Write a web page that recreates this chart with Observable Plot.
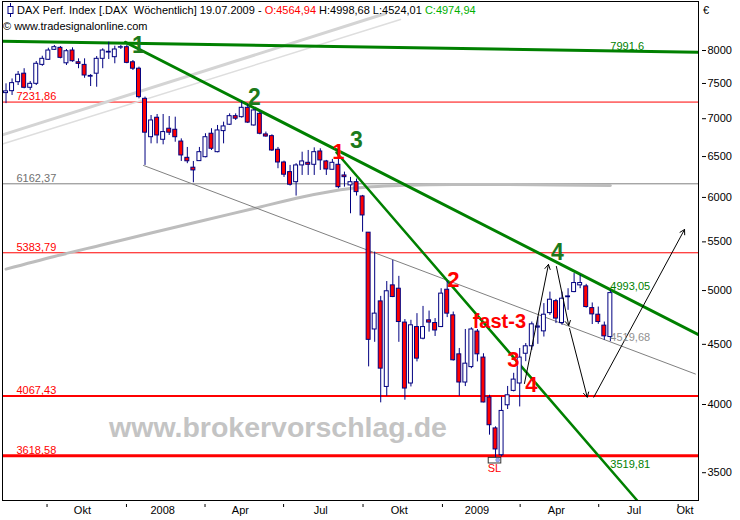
<!DOCTYPE html>
<html><head><meta charset="utf-8">
<script src="https://cdn.jsdelivr.net/npm/d3@7"></script>
<script src="https://cdn.jsdelivr.net/npm/@observablehq/plot@0.6"></script>
<style>
body{margin:0;background:#fff;}
#chart{width:740px;height:520px;}
</style></head><body><div id="chart"></div>
<script>
// ---------- DATA ----------
const firstWeek = "2007-08-13"; // Monday of first weekly bar
const lastWeek = "2009-07-13";  // Monday of last weekly bar
const opens = [7360,7388,7519,7645,7437,7495,7778,7856,8011,8042,7802,8000,7818,7778,7600,7645,7871,7968,7896,8045,
  8052,7818,7720,7278,6751,7013,6717,6864,6850,6694,6484,6360,6442,6492,6797,6556,6832,6918,7035,7021,
  7151,6908,7067,6788,6765,6587,6425,6305,6182,6388,6421,6396,6565,6438,6334,6396,6264,6143,6182,6012,
  5600,4633,4895,4140,5051,5018,4696,4168,4655,4550,4717,4692,4655,5008,4763,4413,4176,4304,4614,4385,
  4055,3817,3622,3994,4108,4168,4418,4483,4650,4616,4784,4897,4692,4935,4985,5051,5041,4831,4769,4668,4564.94];
const highs = [7495,7567,7678,7720,7529,7830,7911,8036,8079,8063,8016,8042,7871,7871,7632,7906,8027,8131,8068,8079,
  8079,7845,7744,7302,7044,7058,7058,7030,7021,6729,6617,6438,6617,6797,6864,6908,6953,7067,7067,7231.86,
  7194,7128,7091,6819,6783,6617,6442,6388,6410,6556,6578,6612,6600,6451,6464,6464,6305,6240,6220,6024,
  5600,5391,4943,5089,5304,5141,4724,4717,4779,4847,4803,4733,5018,5089,4794,4464,4633,4648,4633,4418,
  4073,3829,4059,4144,4252,4464,4507,4701,4747,4874,4985,4914,4985,5018,5169,5151,5061,4880,4841,4701,4998.68];
const lows = [7210,7326,7470,7422,7398,7470,7756,7845,8000,7871,7769,7818,7720,7577,7455,7445,7720,7860,7795,8016,
  7795,7693,7278,6388,6664,6664,6651,6774,6685,6438,6410,6175,6438,6484,6578,6548,6664,6908,6976,7008,
  6934,6899,6783,6751,6565,6347,6240,6135,6016,6264,6264,6264,6326,6264,6334,6103,6122,5811,6016,5605,
  4306,4518,4013,4065,4931,4518,4034,4140,4348,4540,4609,4570,4650,4742,4355,4065,4143,4291,4348,4013,
  3767,3588.89,3610,3961,4100,3981,4350,4448,4500,4565,4763,4687,4671,4810,4979,5018,4831,4678,4680,4536,4524.01];
const closes = [7385,7505,7629,7437,7495,7795,7871,8000,8052,7886,7989,7834,7793,7618,7612,7871,8000,7980,8016,8052,
  7809,7720,7302,6811,6976,6774,6819,6811,6751,6514,6440,6326,6556,6751,6600,6841,6895,7035,7000,7151,
  6947,7114,6797,6760,6578,6425,6273,6151,6388,6438,6396,6556,6451,6338,6421,6122,6243,6182,6063,5792,
  4540,4779,4291,4993,4937,4701,4127,4671,4376,4655,4696,4624,4970,4779,4362,4176,4333,4633,4413,4016,
  3841,3663,3950,4073,4200,4385,4483,4680,4660,4769,4911,4733,4921,4943,5074,5074,4841,4772,4701,4571,4974.94];
const headerDate = "19.07.2009";

// 200-week moving average (sampled at bar indices)
const maIndex = [0,8,16,24,33,41,49,57,66,74,82,91,100];
const maValues = [5214,5345,5469,5596,5741,5871,6006,6106,6145,6155,6155,6149,6143];

// horizontal levels
const levelValues = [7231.86,6162.37,5383.79,4067.43,3618.58];
const levelTexts = ["7231,86","6162,37","5383,79","4067,43","3618,58"];

// trend lines: [date, price] endpoints
const trendTop = [["2007-08-10T10:00Z",8147],["2009-10-24T14:00Z",7973]];
const trendLong = [["2007-12-30T20:00Z",8131],["2009-10-24T14:00Z",4587]];
const trendSteep = [["2008-08-31T07:00Z",6552],["2009-08-14T14:00Z",3314.6]];
const trendGray = [["2008-01-20T17:00Z",6388],["2009-10-21T00:00Z",4246]];
const channelThick = [["2007-08-10T10:00Z",6781],["2008-10-27T00:00Z",8601]];
const channelThin = [["2007-08-10T10:00Z",6662],["2008-11-13T10:00Z",8501]];

// right-hand value labels (at last bar)
const valueTexts = ["7991,6","4993,05","4519,68","3519,81"];
const valueNums = [7991.6,4993.05,4519.68,3519.81];

// wave labels
const greenWaveText = ["1","2","3","4"];
const greenWaveDate = ["2008-01-14T22:00Z","2008-05-28T07:00Z","2008-09-23T10:00Z","2009-05-14T05:00Z"];
const greenWavePrice = [8079,7297,6708,5388];
const redWaveText = ["1","2","fast-3","3","4"];
const redWaveDate = ["2008-09-02T14:00Z","2009-01-13T19:00Z","2009-03-07T22:00Z","2009-03-24T07:00Z","2009-04-14T02:00Z"];
const redWavePrice = [6565,5101,4708,4362,4160];

// arrows
const arrowFromDate = ["2009-04-06T00:00Z","2009-05-13T00:00Z","2009-05-28T05:00Z","2009-06-25T07:00Z"];
const arrowFromPrice = [4168,5241,4642,4058];
const arrowToDate = ["2009-05-03T19:00Z","2009-05-27T07:00Z","2009-06-17T17:00Z","2009-10-08T10:00Z"];
const arrowToPrice = [5262,4669,4058,5635];

// x axis
const quarterTicks = ["2007-10-01","2008-01-01","2008-04-01","2008-07-01","2008-10-01","2009-01-01","2009-04-01","2009-07-01","2009-10-01"];
const monthLabelDates = ["2007-11-11","2008-02-12","2008-05-12","2008-08-13","2008-11-12","2009-02-10","2009-05-13","2009-08-11","2009-10-09"];
const monthLabelTexts = ["Okt","2008","Apr","Jul","Okt","2009","Apr","Jul","Okt"];
const yTicks = [3500,4000,4500,5000,5500,6000,6500,7000,7500,8000];

// stop-loss marker / watermark
const slDate = "2009-03-06T00:00Z", slPrice = 3588.89;
const slTextDate = "2009-03-02T07:00Z", slTextPrice = 3526;
const watermark = "www.brokervorschlag.de";
const watermarkDate = "2008-06-24T12:00Z", watermarkPrice = 3819;

// ---------- BUILD ----------
const D = s => new Date(s);
const mondays = d3.utcMonday.range(D(firstWeek), d3.utcDay.offset(D(lastWeek), 1));
const candles = mondays.map((d, i) => ({date: d3.utcHour.offset(d, 36), open: opens[i], high: highs[i], low: lows[i], close: closes[i]}));
const up = candles.filter(d => d.close >= d.open);
const down = candles.filter(d => d.close < d.open);
const ma = maIndex.map((k, j) => ({date: candles[k].date, value: maValues[j]}));
const seg = a => a.map(([d, v]) => ({date: D(d), value: v}));
const lastDate = candles[candles.length - 1].date;
const deFmt = v => v.toFixed(2).replace(".", ",");

const GREEN = "#008000", RED = "#ff0000", NAVY = "#000080";
const hw = 55; // half body width in hours

const chart = Plot.plot({
  width: 740, height: 520,
  marginLeft: 2, marginRight: 42, marginTop: 1, marginBottom: 20,
  style: {fontFamily: "'Liberation Sans', Arial, sans-serif", fontSize: "11px", background: "white", overflow: "visible"},
  x: {type: "utc", domain: [D("2007-08-10T10:00Z"), D("2009-10-24T14:00Z")]},
  y: {type: "log", domain: [3314.6, 8805.8]},
  marks: [
    Plot.text([watermark], {x: () => D(watermarkDate), y: () => watermarkPrice, text: d => d, fill: "#c4c4c4", fontSize: 28.5, fontWeight: "bold", fontFamily: "'Liberation Sans', Arial, sans-serif"}),
    Plot.ruleY(levelValues, {y: d => d, stroke: (d, i) => i === 1 ? "#808080" : RED, strokeWidth: (d, i) => [1,1,1,2,3][i]}),
    Plot.text(levelValues, {frameAnchor: "left", y: d => d, dx: 14, dy: -5.5, text: (d, i) => levelTexts[i], textAnchor: "start", fill: (d, i) => i === 1 ? "#707070" : RED, fontSize: 11}),
    Plot.line(seg(channelThick), {x: "date", y: "value", stroke: "#d4d4d4", strokeWidth: 3, clip: true}),
    Plot.line(seg(channelThin), {x: "date", y: "value", stroke: "#dedede", strokeWidth: 1.5, clip: true}),
    Plot.line(ma, {x: "date", y: "value", stroke: "#bdbdbd", strokeWidth: 3, curve: "monotone-x"}),
    Plot.line(seg(trendGray), {x: "date", y: "value", stroke: "#808080", strokeWidth: 1, clip: true}),
    Plot.line(seg(trendTop), {x: "date", y: "value", stroke: GREEN, strokeWidth: 3, clip: true}),
    Plot.line(seg(trendLong), {x: "date", y: "value", stroke: GREEN, strokeWidth: 3, clip: true}),
    Plot.line(seg(trendSteep), {x: "date", y: "value", stroke: GREEN, strokeWidth: 2.5, clip: true}),
    Plot.ruleX(candles, {x: "date", y1: "low", y2: "high", stroke: NAVY, strokeWidth: 1}),
    Plot.rect(up, {x1: d => d3.utcHour.offset(d.date, -hw), x2: d => d3.utcHour.offset(d.date, hw), y1: "open", y2: "close", fill: "white", stroke: NAVY, strokeWidth: 1}),
    Plot.rect(down, {x1: d => d3.utcHour.offset(d.date, -hw), x2: d => d3.utcHour.offset(d.date, hw), y1: "open", y2: "close", fill: RED, stroke: NAVY, strokeWidth: 1}),
    Plot.arrow(arrowFromDate, {x1: d => D(d), y1: (d, i) => arrowFromPrice[i], x2: (d, i) => D(arrowToDate[i]), y2: (d, i) => arrowToPrice[i], stroke: "black", strokeWidth: 1, headLength: 8}),
    Plot.rect([slPrice], {x1: () => d3.utcHour.offset(D(slDate), -250), x2: () => d3.utcHour.offset(D(slDate), 100), y1: () => slPrice * 0.993, y2: () => slPrice * 1.004, fill: "white", stroke: "#333"}),
    Plot.dot([slPrice], {x: () => D(slDate), y: d => d, r: 2, fill: "#9aaaf0", stroke: "#6070c0", strokeWidth: 0.5}),
    Plot.text(["SL"], {x: () => D(slTextDate), y: () => slTextPrice, text: d => d, fill: RED, fontSize: 11}),
    Plot.text(valueNums, {x: () => lastDate, y: d => d, dy: -5, text: (d, i) => valueTexts[i], textAnchor: "start", fill: (d, i) => i === 2 ? "#909090" : GREEN, fontSize: 11}),
    Plot.text(greenWaveText, {x: (d, i) => D(greenWaveDate[i]), y: (d, i) => greenWavePrice[i], text: d => d, fill: "#1c7a1c", fontSize: 23, fontWeight: "bold"}),
    Plot.text(redWaveText, {x: (d, i) => D(redWaveDate[i]), y: (d, i) => redWavePrice[i], text: d => d, fill: RED, fontSize: (d) => d === "fast-3" ? 20 : 22, fontWeight: "bold"}),
    Plot.axisY({anchor: "right", ticks: yTicks, tickSize: 4, tickPadding: 2, dx: 3, tickFormat: d => String(d), fontSize: 11}),
    Plot.axisX({ticks: quarterTicks.map(D), tickSize: 3, dy: 4, tickFormat: () => ""}),
    Plot.text(monthLabelDates, {x: d => D(d), text: (d, i) => monthLabelTexts[i], frameAnchor: "bottom", dy: 13, fontSize: 11}),
    Plot.frame({stroke: "black"})
  ]
});

// header (inside the frame, top-left)
const svg = d3.select(chart);
const icon = svg.append("g");
icon.append("line").attr("x1", 10.5).attr("x2", 10.5).attr("y1", 3).attr("y2", 17).attr("stroke", NAVY);
icon.append("rect").attr("x", 8).attr("y", 6.5).attr("width", 5).attr("height", 7).attr("fill", "white").attr("stroke", NAVY);
const n = candles.length - 1;
const t = svg.append("text").attr("x", 17).attr("y", 14).attr("font-size", 11).attr("text-anchor", "start").style("white-space", "pre").attr("fill", "black");
t.append("tspan").text(`DAX Perf. Index [.DAX  Wöchentlich] ${headerDate} - `);
t.append("tspan").attr("fill", RED).text(`O:${deFmt(opens[n])}`);
t.append("tspan").text(` H:${deFmt(highs[n])} L:${deFmt(lows[n])} `);
t.append("tspan").attr("fill", "#00b000").text(`C:${deFmt(closes[n])}`);
svg.append("text").attr("x", 3).attr("y", 30).attr("font-size", 11).attr("text-anchor", "start").text("© www.tradesignalonline.com");
svg.append("text").attr("x", 703).attr("y", 14).attr("font-size", 11).attr("text-anchor", "start").text("€");

document.getElementById("chart").appendChild(chart);
</script>
</body></html>
